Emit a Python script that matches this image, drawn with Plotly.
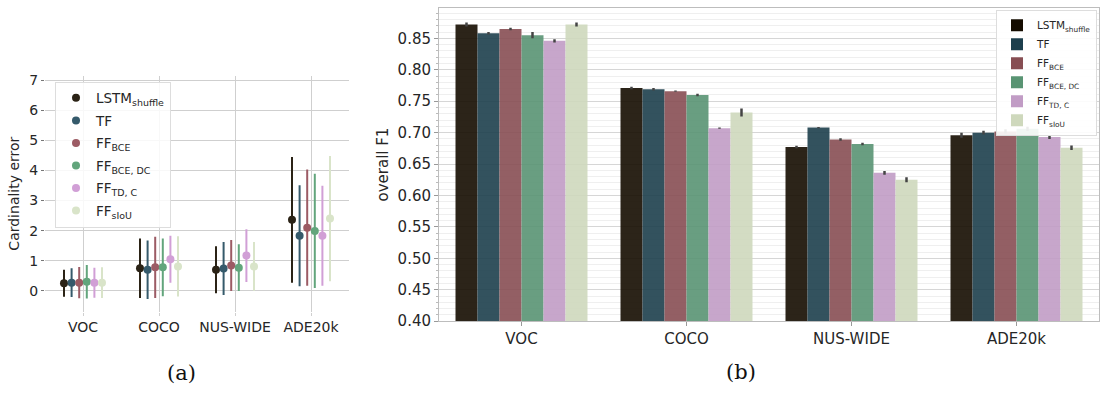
import plotly.graph_objects as go

W, H = 1101, 403

datasets = ["VOC", "COCO", "NUS-WIDE", "ADE20k"]
models = ["LSTM<sub>shuffle</sub>", "TF", "FF<sub>BCE</sub>", "FF<sub>BCE, DC</sub>",
          "FF<sub>TD, C</sub>", "FF<sub>sIoU</sub>"]

# (a) cardinality error: mean and half-length of error bar, per model across datasets
card_lstm = [0.25, 0.75, 0.70, 2.36]
card_tf = [0.27, 0.70, 0.74, 1.83]
card_bce = [0.27, 0.78, 0.84, 2.10]
card_bcedc = [0.30, 0.78, 0.77, 1.99]
card_tdc = [0.27, 1.05, 1.17, 1.83]
card_siou = [0.27, 0.81, 0.81, 2.40]

card_err_lstm = [0.45, 0.99, 0.78, 2.09]
card_err_tf = [0.48, 0.97, 0.88, 1.68]
card_err_bce = [0.52, 1.02, 0.85, 1.93]
card_err_bcedc = [0.56, 0.96, 0.78, 1.90]
card_err_tdc = [0.50, 0.78, 0.88, 1.66]
card_err_siou = [0.51, 1.00, 0.81, 2.08]

# (b) overall F1
f1_lstm = [0.872, 0.771, 0.677, 0.696]
f1_tf = [0.858, 0.769, 0.708, 0.700]
f1_bce = [0.865, 0.766, 0.689, 0.702]
f1_bcedc = [0.855, 0.760, 0.682, 0.706]
f1_tdc = [0.846, 0.707, 0.636, 0.693]
f1_siou = [0.872, 0.732, 0.625, 0.676]

f1_err_lstm = [0.003, 0.002, 0.002, 0.004]
f1_err_tf = [0.002, 0.002, 0.001, 0.003]
f1_err_bce = [0.002, 0.001, 0.002, 0.0035]
f1_err_bcedc = [0.005, 0.002, 0.002, 0.0035]
f1_err_tdc = [0.0025, 0.001, 0.003, 0.003]
f1_err_siou = [0.003, 0.0065, 0.004, 0.0035]

f1_ticks = [0.40, 0.45, 0.50, 0.55, 0.60, 0.65, 0.70, 0.75, 0.80, 0.85]
card_ticks = [0, 1, 2, 3, 4, 5, 6, 7]

card_means = [card_lstm, card_tf, card_bce, card_bcedc, card_tdc, card_siou]
card_errs = [card_err_lstm, card_err_tf, card_err_bce, card_err_bcedc, card_err_tdc, card_err_siou]
f1_vals = [f1_lstm, f1_tf, f1_bce, f1_bcedc, f1_tdc, f1_siou]
f1_errs = [f1_err_lstm, f1_err_tf, f1_err_bce, f1_err_bcedc, f1_err_tdc, f1_err_siou]

point_colors = ["#2b2316", "#355a6b", "#9c5b64", "#62a57c", "#d19fd6", "#d9e4c9"]
bar_obs = [(44, 36, 22), (52, 82, 95), (147, 96, 100), (106, 159, 129), (199, 166, 203), (211, 220, 195)]
BAR_ALPHA = 0.9


def pre_alpha(c, a=BAR_ALPHA):
    vals = [max(0, min(255, round((v - (1 - a) * 255) / a))) for v in c]
    return "rgb(%d,%d,%d)" % tuple(vals)


FONT = "DejaVu Sans"
fig = go.Figure()

for i, m in enumerate(models):
    fig.add_trace(go.Scatter(
        x=datasets, y=card_means[i], mode="markers", name=m,
        marker=dict(color=point_colors[i], size=8),
        error_y=dict(type="data", array=card_errs[i], color=point_colors[i],
                     thickness=2, width=0),
        xaxis="x", yaxis="y", legend="legend", legendgroup="a%d" % i,
    ))

for i, m in enumerate(models):
    fig.add_trace(go.Bar(
        x=datasets, y=f1_vals[i], name=m,
        marker=dict(color=pre_alpha(bar_obs[i]), opacity=BAR_ALPHA, line=dict(width=0)),
        error_y=dict(type="data", array=f1_errs[i], color="#444444", thickness=2.5, width=0),
        xaxis="x2", yaxis="y2", legend="legend2",
    ))

L1, R1, T1, B1 = 45, 349, 75, 318
L2, R2, T2, B2 = 439, 1099, 5, 328

fig.update_layout(
    width=W, height=H,
    margin=dict(l=0, r=0, t=0, b=0),
    paper_bgcolor="white", plot_bgcolor="white",
    font=dict(family=FONT, color="#262626"),
    scattermode="group", scattergap=0.4,
    barmode="group", bargap=0.2, bargroupgap=0,
    xaxis=dict(
        domain=[L1 / W, R1 / W], anchor="y", type="category",
        categoryorder="array", categoryarray=datasets,
        range=[-0.5, 3.5], showgrid=True, gridcolor="#cfcfcf", gridwidth=1,
        showline=False, zeroline=False, ticks="outside", ticklen=3, tickcolor="#cfcfcf",
        tickfont=dict(size=14, family=FONT, color="#262626"),
    ),
    yaxis=dict(
        domain=[1 - B1 / H, 1 - T1 / H], anchor="x",
        range=[-0.69, 7.15], tickvals=card_ticks, showgrid=True, gridcolor="#cfcfcf",
        gridwidth=1, zeroline=False, showline=False, ticks="outside", ticklen=3,
        tickcolor="#777777", tickfont=dict(size=14, family=FONT, color="#262626"),
        title=dict(text="Cardinality error", font=dict(size=14, family=FONT, color="#262626"),
                   standoff=6),
    ),
    xaxis2=dict(
        domain=[L2 / W, R2 / W], anchor="y2", type="category",
        categoryorder="array", categoryarray=datasets,
        range=[-0.5, 3.5], showgrid=False, showline=True, linecolor="#bdbdbd",
        linewidth=1, mirror=True, ticks="outside", ticklen=4, tickcolor="#999999",
        tickfont=dict(size=15, family=FONT, color="#262626"),
    ),
    yaxis2=dict(
        domain=[1 - B2 / H, 1 - T2 / H], anchor="x2",
        range=[0.40, 0.8985], tickvals=f1_ticks, tickformat=".2f",
        showgrid=True, gridcolor="#d6d6d6", gridwidth=1, zeroline=False,
        showline=True, linecolor="#bdbdbd", linewidth=1, mirror=True,
        ticks="outside", ticklen=4, tickcolor="#999999",
        minor=dict(dtick=0.01, showgrid=True, gridcolor="#efefef", gridwidth=1,
                   ticks="outside", ticklen=2, tickcolor="#bbbbbb"),
        tickfont=dict(size=15, family=FONT, color="#262626"),
        title=dict(text="overall F1", font=dict(size=15, family=FONT, color="#262626"),
                   standoff=5),
    ),
    legend=dict(
        x=55 / W, y=1 - 81 / H, xanchor="left", yanchor="top",
        bgcolor="rgba(255,255,255,0.85)", bordercolor="#dddddd", borderwidth=1,
        font=dict(size=13.5, family=FONT, color="#262626"), tracegroupgap=2,
    ),
    legend2=dict(
        x=1097 / W, y=1 - 7 / H, xanchor="right", yanchor="top",
        bgcolor="rgba(255,255,255,0.9)", bordercolor="#dddddd", borderwidth=1,
        font=dict(size=10.5, family=FONT, color="#262626"), tracegroupgap=0,
    ),
    annotations=[
        dict(text="(a)", x=181 / W, y=1 - 381 / H, xref="paper", yref="paper",
             showarrow=False, xanchor="center", yanchor="middle",
             font=dict(size=21, family="DejaVu Serif", color="#111111")),
        dict(text="(b)", x=741 / W, y=1 - 380 / H, xref="paper", yref="paper",
             showarrow=False, xanchor="center", yanchor="middle",
             font=dict(size=21, family="DejaVu Serif", color="#111111")),
    ],
)

fig.write_html("out.html")
